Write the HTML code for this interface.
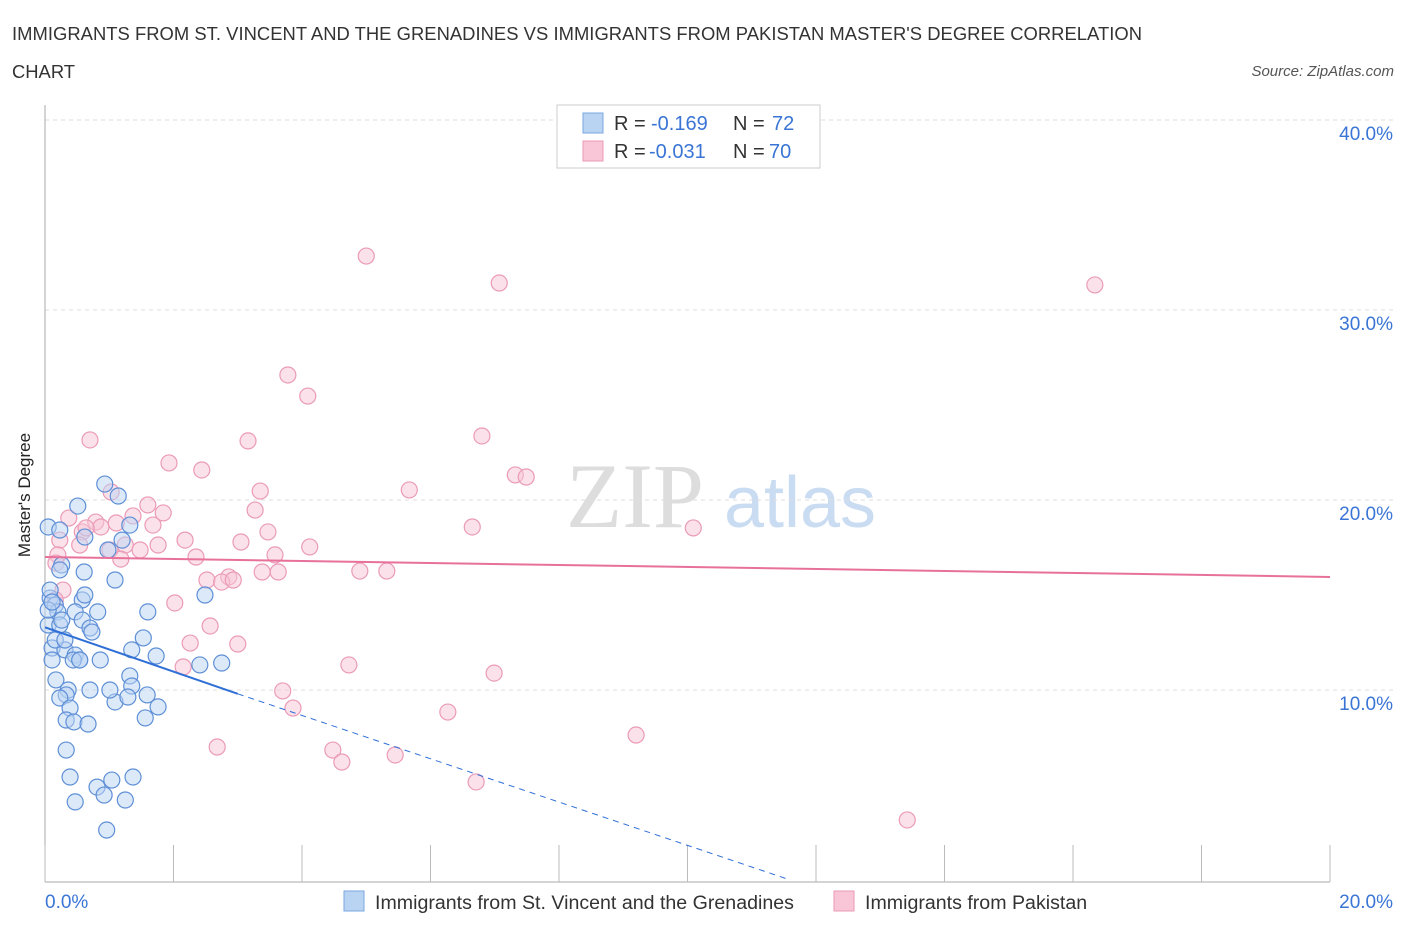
<!DOCTYPE html>
<html><head><meta charset="utf-8"><style>
body{margin:0;background:#fff;font-family:"Liberation Sans",sans-serif;}
svg{display:block}
</style></head><body>
<svg width="1406" height="930">
<text x="12" y="40" font-size="18.4" fill="#333" textLength="1130">IMMIGRANTS FROM ST. VINCENT AND THE GRENADINES VS IMMIGRANTS FROM PAKISTAN MASTER'S DEGREE CORRELATION</text>
<text x="12" y="78" font-size="18.4" fill="#333">CHART</text>
<text x="1394" y="76" font-size="15" fill="#555" font-style="italic" text-anchor="end">Source: ZipAtlas.com</text>
<text x="635" y="527" font-size="92" fill="#ddd" font-family="Liberation Serif" text-anchor="middle">ZIP</text>
<text x="800" y="527" font-size="72" fill="#c9dcf2" text-anchor="middle">atlas</text>
<g id="grid"></g>
<line x1="45" y1="105" x2="45" y2="882" stroke="#aaa"/>
<line x1="45" y1="882" x2="1330" y2="882" stroke="#aaa"/>
<g id="xticks"></g>
<text x="30" y="495" font-size="17" fill="#222" transform="rotate(-90 30 495)" text-anchor="middle">Master's Degree</text>
<text x="45" y="908" font-size="19" fill="#3a75d6">0.0%</text>
<text x="1393" y="908" font-size="19" fill="#3a75d6" text-anchor="end">20.0%</text>
<g id="pts"></g>
<g id="lines"></g>
<rect x="557" y="105" width="263" height="63" fill="#fff" stroke="#ccc"/>
<rect x="583" y="113" width="20" height="20" fill="#b9d3f3" stroke="#7aa7e0"/>
<rect x="583" y="141" width="20" height="20" fill="#f8c6d6" stroke="#eb9ab6"/>
<text y="130" font-size="20" fill="#333"><tspan x="614">R =</tspan><tspan x="651" fill="#3a75d6">-0.169</tspan><tspan x="733">N =</tspan><tspan x="772" fill="#3a75d6">72</tspan></text>
<text y="158" font-size="20" fill="#333"><tspan x="614">R =</tspan><tspan x="649" fill="#3a75d6">-0.031</tspan><tspan x="733">N =</tspan><tspan x="769" fill="#3a75d6">70</tspan></text>
<rect x="344" y="891" width="20" height="20" fill="#b9d3f3" stroke="#7aa7e0"/>
<text x="375" y="909" font-size="19.6" fill="#333">Immigrants from St. Vincent and the Grenadines</text>
<rect x="834" y="891" width="20" height="20" fill="#f8c6d6" stroke="#eb9ab6"/>
<text x="865" y="909" font-size="19.6" fill="#333">Immigrants from Pakistan</text>
</svg>
<script>
const yTicks=[10,20,30,40];
const yTickLabels=["10.0%","20.0%","30.0%","40.0%"];
const bluePx=[[48,527],[60,530],[78,506],[105,484],[118,496],[130,525],[122,540],[108,550],[85,537],[62,565],[60,570],[84,572],[115,580],[50,598],[55,605],[82,600],[85,595],[58,612],[75,612],[98,612],[48,625],[60,625],[82,620],[90,628],[92,632],[148,612],[205,595],[52,648],[65,650],[75,655],[80,660],[73,660],[52,660],[143,638],[132,650],[156,656],[200,665],[222,663],[130,676],[132,686],[56,680],[68,690],[66,695],[60,698],[115,702],[128,697],[147,695],[158,707],[70,708],[145,718],[66,720],[74,722],[88,724],[66,750],[70,777],[112,780],[133,777],[97,787],[104,795],[75,802],[125,800],[107,830],[48,610],[62,620],[55,640],[100,660],[110,690],[90,690],[50,590],[80,660],[65,640],[52,602]];
const pinkPx=[[366,256],[499,283],[1095,285],[288,375],[308,396],[90,440],[248,441],[482,436],[169,463],[202,470],[515,475],[526,477],[111,492],[409,490],[260,491],[148,505],[163,513],[255,510],[69,518],[133,516],[96,522],[101,527],[116,523],[472,527],[693,528],[153,525],[82,532],[86,528],[268,532],[60,540],[125,545],[140,550],[158,545],[185,540],[241,542],[310,547],[58,555],[110,550],[196,557],[275,555],[56,563],[121,559],[262,572],[278,572],[360,571],[387,571],[229,577],[207,580],[222,582],[233,580],[63,590],[175,603],[210,626],[238,644],[190,643],[183,667],[349,665],[494,673],[283,691],[293,708],[448,712],[636,735],[217,747],[333,750],[342,762],[395,755],[476,782],[907,820],[55,600],[80,545]];
const blueX=bluePx.map(p=>+((p[0]-45)/64.25).toFixed(2));
const blueY=bluePx.map(p=>+((880-p[1])/19).toFixed(2));
const pinkX=pinkPx.map(p=>+((p[0]-45)/64.25).toFixed(2));
const pinkY=pinkPx.map(p=>+((880-p[1])/19).toFixed(2));
const blueTrend=[[0,13.3],[3,9.8],[11.6,0]];
const pinkTrend=[[0,17.0],[20,15.95]];
const sx=v=>45+v*64.25, sy=v=>880-v*19;
const NS="http://www.w3.org/2000/svg";
function mk(t,a,parent){const e=document.createElementNS(NS,t);for(const k in a)e.setAttribute(k,a[k]);document.getElementById(parent).appendChild(e);return e;}
yTicks.forEach((t,i)=>{
 const l=mk('line',{x1:45,x2:1395,y1:sy(t),y2:sy(t),stroke:'#ddd','stroke-dasharray':'4,4'},'grid');
 
 
 const tx=mk('text',{x:1393,y:sy(t)+20,'font-size':19,fill:'#3a75d6','text-anchor':'end'},'grid');
 tx.textContent=yTickLabels[i];
 
 
});
for(let i=0;i<=10;i++){
 const l=mk('line',{x1:sx(i*2),x2:sx(i*2),y1:845,y2:882,stroke:'#bbb'},'xticks');
 
 
}
function dots(X,Y,f,s,n){X.forEach((x,i)=>{const c=mk('circle',{cx:sx(x),cy:sy(Y[i]),r:8,fill:f,'fill-opacity':0.5,stroke:s,'stroke-width':1.2},'pts');
 
 });}
dots(pinkX,pinkY,'#f8c6d6','#eb9ab6','pink-point');
dots(blueX,blueY,'#b9d3f3','#5e8fd6','blue-point');
let b=mk('line',{x1:sx(blueTrend[0][0]),y1:sy(blueTrend[0][1]),x2:sx(blueTrend[1][0]),y2:sy(blueTrend[1][1]),stroke:'#2f6fd6','stroke-width':2},'lines');


b=mk('line',{x1:sx(blueTrend[1][0]),y1:sy(blueTrend[1][1]),x2:sx(blueTrend[2][0]),y2:sy(blueTrend[2][1]),stroke:'#2f6fd6','stroke-width':1,'stroke-dasharray':'6,5'},'lines');


b=mk('line',{x1:sx(pinkTrend[0][0]),y1:sy(pinkTrend[0][1]),x2:sx(pinkTrend[1][0]),y2:sy(pinkTrend[1][1]),stroke:'#e8719b','stroke-width':2},'lines');


</script>
</body></html>
